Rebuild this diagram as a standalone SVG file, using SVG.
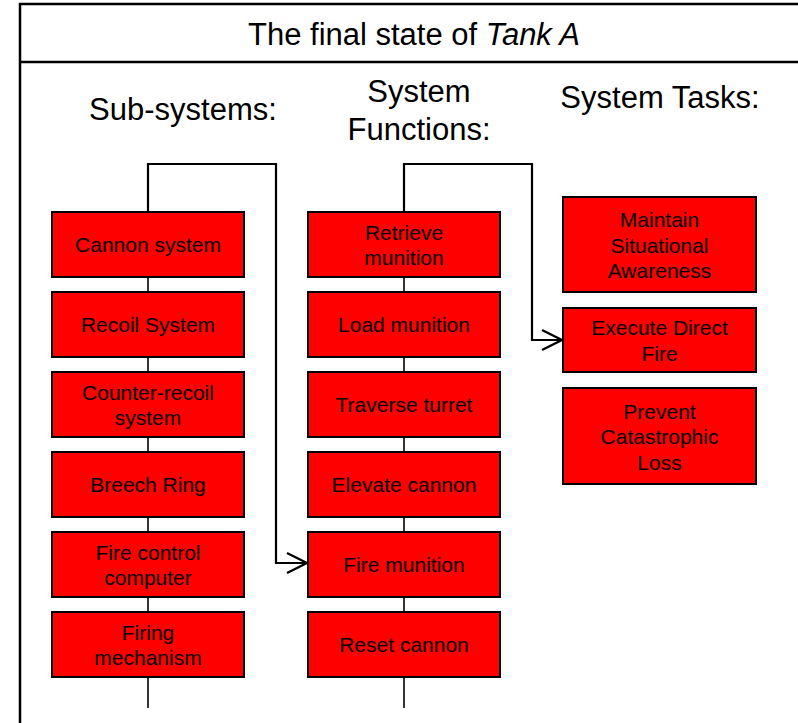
<svg xmlns="http://www.w3.org/2000/svg" width="798" height="723" viewBox="0 0 798 723">
  <style>
    .frame { fill: none; stroke: #000; stroke-width: 2.5; }
    .head { font-family: "Liberation Sans", Arial, sans-serif; font-size: 31px; fill: #000; text-anchor: middle; }
    .box rect { fill: #ff0000; stroke: #000; stroke-width: 2; }
    .box text { font-family: "Liberation Sans", Arial, sans-serif; font-size: 21px; fill: #000; text-anchor: middle; }
    .spine { fill: none; stroke: #000; stroke-width: 1.6; }
    .link { fill: none; stroke: #000; stroke-width: 2.2; }
  </style>
  <defs>
    <marker id="chevron" markerUnits="userSpaceOnUse" markerWidth="24" markerHeight="24" viewBox="-22 -12 24 24" refX="0" refY="0" orient="auto">
      <path d="M -20 -10 L 0 0 L -20 10" fill="none" stroke="#000" stroke-width="2.4"/>
    </marker>
  </defs>

  <!-- outer frame and title band -->
  <g id="frame">
    <rect x="0" y="0" width="798" height="723" fill="#fff"/>
    <path class="frame" d="M 20 723 V 4 H 800 M 20 62 H 800"/>
    <text class="head" x="414" y="45">The final state of  <tspan font-style="italic">Tank A</tspan></text>
  </g>

  <!-- column headings -->
  <g id="headings">
    <text class="head" x="183" y="120">Sub-systems:</text>
    <text class="head" x="419" y="102">System</text>
    <text class="head" x="419" y="140">Functions:</text>
    <text class="head" x="660" y="108">System Tasks:</text>
  </g>

  <!-- connectors -->
  <g id="connectors">
    <path class="spine" d="M 148 164 V 708"/>
    <path class="spine" d="M 404 164 V 708"/>
    <path class="link" d="M 148 212 V 164 H 276 V 563 H 307" marker-end="url(#chevron)"/>
    <path class="link" d="M 404 212 V 164 H 532 V 340 H 562" marker-end="url(#chevron)"/>
  </g>

  <!-- sub-systems -->
  <g id="cannon-system" class="box"><rect x="52" y="212" width="192" height="65"/><text x="148" y="252">Cannon system</text></g>
  <g id="recoil-system" class="box"><rect x="52" y="292" width="192" height="65"/><text x="148" y="332">Recoil System</text></g>
  <g id="counter-recoil-system" class="box"><rect x="52" y="372" width="192" height="65"/><text x="148" y="399.5">Counter-recoil</text><text x="148" y="425">system</text></g>
  <g id="breech-ring" class="box"><rect x="52" y="452" width="192" height="65"/><text x="148" y="492">Breech Ring</text></g>
  <g id="fire-control-computer" class="box"><rect x="52" y="532" width="192" height="65"/><text x="148" y="559.5">Fire control</text><text x="148" y="585">computer</text></g>
  <g id="firing-mechanism" class="box"><rect x="52" y="612" width="192" height="65"/><text x="148" y="639.5">Firing</text><text x="148" y="665">mechanism</text></g>

  <!-- system functions -->
  <g id="retrieve-munition" class="box"><rect x="308" y="212" width="192" height="65"/><text x="404" y="239.5">Retrieve</text><text x="404" y="265">munition</text></g>
  <g id="load-munition" class="box"><rect x="308" y="292" width="192" height="65"/><text x="404" y="332">Load munition</text></g>
  <g id="traverse-turret" class="box"><rect x="308" y="372" width="192" height="65"/><text x="404" y="412">Traverse turret</text></g>
  <g id="elevate-cannon" class="box"><rect x="308" y="452" width="192" height="65"/><text x="404" y="492">Elevate cannon</text></g>
  <g id="fire-munition" class="box"><rect x="308" y="532" width="192" height="65"/><text x="404" y="572">Fire munition</text></g>
  <g id="reset-cannon" class="box"><rect x="308" y="612" width="192" height="65"/><text x="404" y="652">Reset cannon</text></g>

  <!-- system tasks -->
  <g id="maintain-situational-awareness" class="box"><rect x="563" y="197" width="193" height="95"/><text x="659.5" y="227">Maintain</text><text x="659.5" y="252.5">Situational</text><text x="659.5" y="278">Awareness</text></g>
  <g id="execute-direct-fire" class="box"><rect x="563" y="308" width="193" height="64"/><text x="659.5" y="335">Execute Direct</text><text x="659.5" y="360.5">Fire</text></g>
  <g id="prevent-catastrophic-loss" class="box"><rect x="563" y="388" width="193" height="96"/><text x="659.5" y="418.5">Prevent</text><text x="659.5" y="444">Catastrophic</text><text x="659.5" y="469.5">Loss</text></g>
</svg>
